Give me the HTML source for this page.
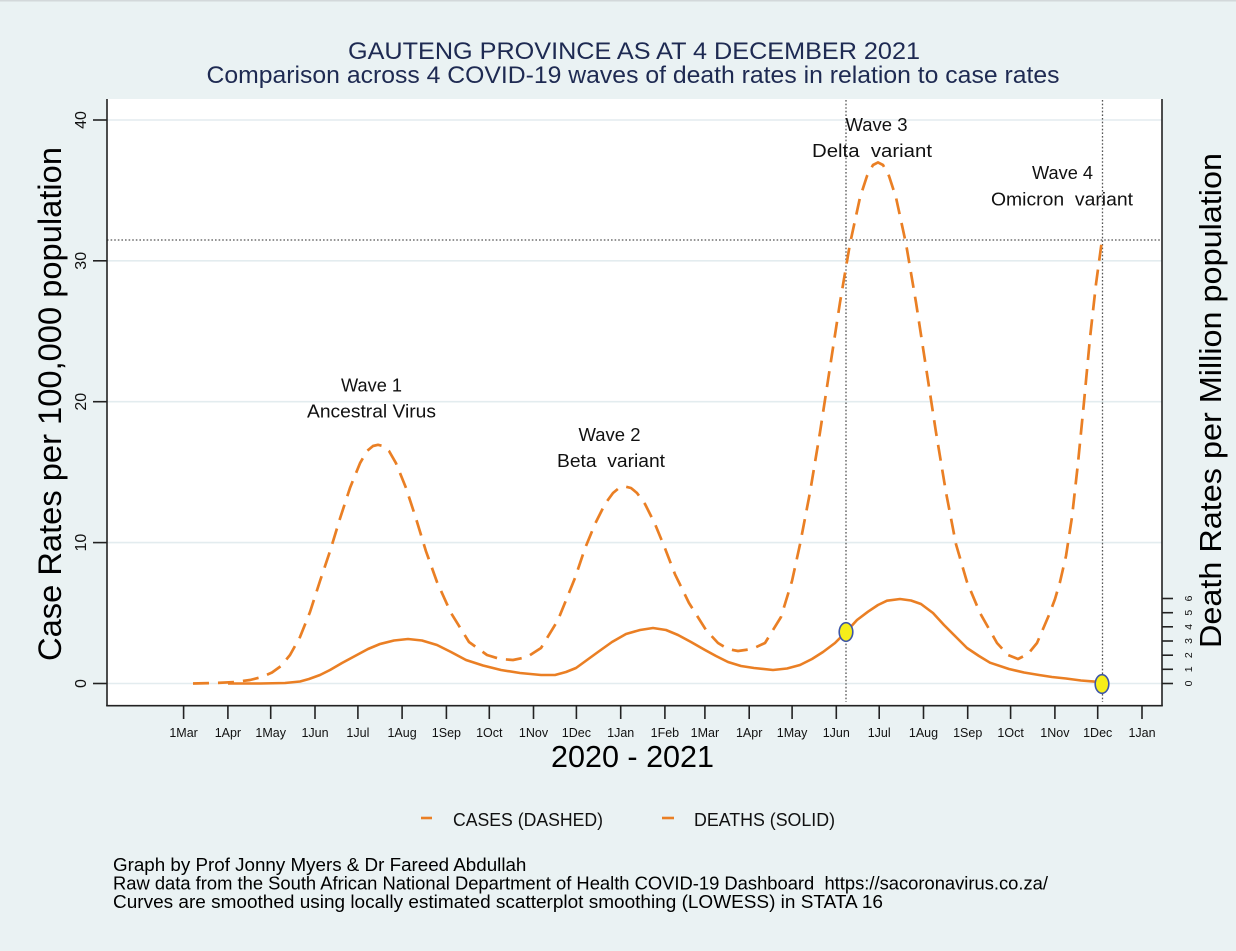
<!DOCTYPE html>
<html><head><meta charset="utf-8"><style>
html,body{margin:0;padding:0;background:#eaf2f3;}
svg{display:block;}
text{font-family:"Liberation Sans",Arial,sans-serif;}
</style></head><body>
<svg width="1236" height="951" viewBox="0 0 1236 951" xmlns="http://www.w3.org/2000/svg">
<rect x="0" y="0" width="1236" height="951" fill="#eaf2f3"/>
<rect x="0" y="0" width="1236" height="1.5" fill="#d3d8da"/>

<!-- Titles -->
<text x="634" y="59" text-anchor="middle" font-size="24" fill="#1e2a52" textLength="572" lengthAdjust="spacingAndGlyphs">GAUTENG PROVINCE AS AT 4 DECEMBER 2021</text>
<text x="633" y="83" text-anchor="middle" font-size="24" fill="#1e2a52" textLength="853" lengthAdjust="spacingAndGlyphs">Comparison across 4 COVID-19 waves of death rates in relation to case rates</text>

<!-- plot area -->
<rect x="107" y="99" width="1055" height="607" fill="#ffffff"/>
<g stroke="#e3ecef" stroke-width="1.6">
<line x1="107" y1="120" x2="1162" y2="120"/>
<line x1="107" y1="260.8" x2="1162" y2="260.8"/>
<line x1="107" y1="401.7" x2="1162" y2="401.7"/>
<line x1="107" y1="542.6" x2="1162" y2="542.6"/>
<line x1="107" y1="683.5" x2="1162" y2="683.5"/>
</g>

<g stroke="#555" stroke-width="1.3" stroke-dasharray="1.6,2" fill="none">
<line x1="107" y1="240" x2="1162" y2="240"/>
<line x1="846" y1="100" x2="846" y2="702"/>
<line x1="1102.5" y1="100" x2="1102.5" y2="702"/>
</g>

<g stroke="#222" stroke-width="1.6" fill="none">
<line x1="107" y1="99" x2="107" y2="706"/>
<line x1="106.2" y1="705.7" x2="1162.8" y2="705.7"/>
<line x1="1162" y1="99" x2="1162" y2="706"/>
<line x1="93" y1="120" x2="107" y2="120"/>
<line x1="93" y1="260.8" x2="107" y2="260.8"/>
<line x1="93" y1="401.7" x2="107" y2="401.7"/>
<line x1="93" y1="542.6" x2="107" y2="542.6"/>
<line x1="93" y1="683.5" x2="107" y2="683.5"/>
<line x1="1162" y1="683.5" x2="1173" y2="683.5"/>
<line x1="1162" y1="669.3" x2="1173" y2="669.3"/>
<line x1="1162" y1="655.2" x2="1173" y2="655.2"/>
<line x1="1162" y1="641" x2="1173" y2="641"/>
<line x1="1162" y1="626.8" x2="1173" y2="626.8"/>
<line x1="1162" y1="612.7" x2="1173" y2="612.7"/>
<line x1="1162" y1="598.5" x2="1173" y2="598.5"/>
<line x1="183.6" y1="705.7" x2="183.6" y2="719"/>
<line x1="227.9" y1="705.7" x2="227.9" y2="719"/>
<line x1="270.7" y1="705.7" x2="270.7" y2="719"/>
<line x1="315" y1="705.7" x2="315" y2="719"/>
<line x1="357.9" y1="705.7" x2="357.9" y2="719"/>
<line x1="402.1" y1="705.7" x2="402.1" y2="719"/>
<line x1="446.4" y1="705.7" x2="446.4" y2="719"/>
<line x1="489.3" y1="705.7" x2="489.3" y2="719"/>
<line x1="533.5" y1="705.7" x2="533.5" y2="719"/>
<line x1="576.4" y1="705.7" x2="576.4" y2="719"/>
<line x1="620.7" y1="705.7" x2="620.7" y2="719"/>
<line x1="664.9" y1="705.7" x2="664.9" y2="719"/>
<line x1="704.9" y1="705.7" x2="704.9" y2="719"/>
<line x1="749.2" y1="705.7" x2="749.2" y2="719"/>
<line x1="792.1" y1="705.7" x2="792.1" y2="719"/>
<line x1="836.3" y1="705.7" x2="836.3" y2="719"/>
<line x1="879.2" y1="705.7" x2="879.2" y2="719"/>
<line x1="923.5" y1="705.7" x2="923.5" y2="719"/>
<line x1="967.7" y1="705.7" x2="967.7" y2="719"/>
<line x1="1010.6" y1="705.7" x2="1010.6" y2="719"/>
<line x1="1054.9" y1="705.7" x2="1054.9" y2="719"/>
<line x1="1097.7" y1="705.7" x2="1097.7" y2="719"/>
<line x1="1142" y1="705.7" x2="1142" y2="719"/>
</g>

<g font-size="16" fill="#111" text-anchor="middle">
<text transform="translate(86,120) rotate(-90)">40</text>
<text transform="translate(86,260.8) rotate(-90)">30</text>
<text transform="translate(86,401.7) rotate(-90)">20</text>
<text transform="translate(86,542.6) rotate(-90)">10</text>
<text transform="translate(86,683.5) rotate(-90)">0</text>
</g>

<g font-size="10.5" fill="#111" text-anchor="middle">
<text transform="translate(1192,683.5) rotate(-90)">0</text>
<text transform="translate(1192,669.3) rotate(-90)">1</text>
<text transform="translate(1192,655.2) rotate(-90)">2</text>
<text transform="translate(1192,641) rotate(-90)">3</text>
<text transform="translate(1192,626.8) rotate(-90)">4</text>
<text transform="translate(1192,612.7) rotate(-90)">5</text>
<text transform="translate(1192,598.5) rotate(-90)">6</text>
</g>

<g font-size="12.5" fill="#111" text-anchor="middle">
<text x="183.6" y="737">1Mar</text>
<text x="227.9" y="737">1Apr</text>
<text x="270.7" y="737">1May</text>
<text x="315" y="737">1Jun</text>
<text x="357.9" y="737">1Jul</text>
<text x="402.1" y="737">1Aug</text>
<text x="446.4" y="737">1Sep</text>
<text x="489.3" y="737">1Oct</text>
<text x="533.5" y="737">1Nov</text>
<text x="576.4" y="737">1Dec</text>
<text x="620.7" y="737">1Jan</text>
<text x="664.9" y="737">1Feb</text>
<text x="704.9" y="737">1Mar</text>
<text x="749.2" y="737">1Apr</text>
<text x="792.1" y="737">1May</text>
<text x="836.3" y="737">1Jun</text>
<text x="879.2" y="737">1Jul</text>
<text x="923.5" y="737">1Aug</text>
<text x="967.7" y="737">1Sep</text>
<text x="1010.6" y="737">1Oct</text>
<text x="1054.9" y="737">1Nov</text>
<text x="1097.7" y="737">1Dec</text>
<text x="1142" y="737">1Jan</text>
</g>

<text transform="translate(61,404) rotate(-90)" text-anchor="middle" font-size="32" fill="#000" textLength="514" lengthAdjust="spacingAndGlyphs">Case Rates per 100,000 population</text>
<text transform="translate(1221,400.5) rotate(-90)" text-anchor="middle" font-size="31" fill="#000" textLength="495" lengthAdjust="spacingAndGlyphs">Death Rates per Million population</text>
<text x="632.5" y="767" text-anchor="middle" font-size="30.5" fill="#000" textLength="163" lengthAdjust="spacingAndGlyphs">2020 - 2021</text>

<g font-size="18" fill="#111" text-anchor="middle">
<text x="371.5" y="391.7" textLength="61" lengthAdjust="spacingAndGlyphs">Wave 1</text>
<text x="371.5" y="417.7" textLength="129" lengthAdjust="spacingAndGlyphs">Ancestral Virus</text>
<text x="609.5" y="441" textLength="62" lengthAdjust="spacingAndGlyphs">Wave 2</text>
<text x="611" y="467" textLength="108" lengthAdjust="spacingAndGlyphs">Beta&#160; variant</text>
<text x="876.5" y="131" textLength="62" lengthAdjust="spacingAndGlyphs">Wave 3</text>
<text x="872" y="157" textLength="120" lengthAdjust="spacingAndGlyphs">Delta&#160; variant</text>
<text x="1062.5" y="179" textLength="61" lengthAdjust="spacingAndGlyphs">Wave 4</text>
<text x="1062" y="205.7" textLength="142" lengthAdjust="spacingAndGlyphs">Omicron&#160; variant</text>
</g>

<path fill="none" stroke="#ea7f24" stroke-width="2.7" stroke-dasharray="16,9" stroke-linejoin="round" stroke-linecap="butt"
d="M193,683.5 L215,683 L235,682 L250,680 L262,677 L272,672.5 L281,666 L290,655 L300,637 L310,612 L320,581 L330,551.3 L340,518.5 L350,487.9 L360,463.2 L367,451 L373,446 L378,444.8 L383,446 L389,451 L396,463.2 L406,487.9 L416,518.5 L426,551.3 L437,582 L451,613 L469,642 L487,655 L500,659 L513,660 L527,657 L541,648 L558,620 L575,578 L585,548.4 L595,524 L605,504 L613,493 L619,488 L625,486.5 L631,488 L637,493 L645,504 L655,524 L665,548.4 L675,574.3 L689,603 L706,630 L718,643 L728,649 L738,651 L752,649 L765,643 L781,617 L792,581 L800,544.3 L810,492.4 L820,432.3 L830,367.3 L840,302.4 L850,243.7 L860,197.5 L867,176 L873,165 L878,162.4 L883,165 L889,176 L896,197.5 L906,243.7 L916,302.4 L926,367.3 L936,432.3 L946,492.4 L956,544.3 L967,582 L980,613 L997,643 L1008,655 L1018,659 L1028,654 L1037,643 L1049,615 L1055,599 L1060,582 L1066,556 L1072,517 L1078,463 L1084,402 L1090,338 L1096,284 L1102,240"/>

<path fill="none" stroke="#ea7f24" stroke-width="2.6" stroke-linejoin="round"
d="M228,683.5 L260,683.5 L285,683 L300,681.5 L309,679 L320,675 L330,670 L342,663 L355,656 L368,649 L380,644 L394,640.5 L408,639 L422,640.5 L437,645 L451,652 L466,660 L483,665.5 L501,670 L520,673 L541,675 L555,675 L566,672 L576,668 L587,660 L598,652 L612,642 L626,634 L640,630 L653,628 L666,630 L678,635 L691,642 L705,650 L716,656 L728,662 L741,666 L754,668 L773,670 L787,668.5 L800,665 L812,659 L823,652 L835,643 L846,632 L857,620 L868,611.7 L878,605 L887,600.7 L900,599 L911,600.5 L921,604 L933,613 L944,625 L956,637 L967,648 L979,656 L990,662.7 L1009,669 L1024,672.5 L1039,675 L1052,677 L1066,678.5 L1081,680.5 L1096,681.7 L1102,682.3"/>

<ellipse cx="846" cy="632" rx="6.8" ry="9.3" fill="#f6ee1a" stroke="#3d55a8" stroke-width="1.6"/>
<ellipse cx="1102" cy="684" rx="6.8" ry="9.3" fill="#f6ee1a" stroke="#3d55a8" stroke-width="1.6"/>

<g stroke="#ea7f24" stroke-width="2.6">
<line x1="421" y1="818" x2="432" y2="818"/>
<line x1="662" y1="818" x2="674" y2="818"/>
</g>
<g font-size="18" fill="#111">
<text x="453" y="826" textLength="150" lengthAdjust="spacingAndGlyphs">CASES (DASHED)</text>
<text x="694" y="826" textLength="141" lengthAdjust="spacingAndGlyphs">DEATHS (SOLID)</text>
</g>

<g font-size="18.8" fill="#000">
<text x="113" y="871">Graph by Prof Jonny Myers &amp; Dr Fareed Abdullah</text>
<text x="113" y="889.5" textLength="935" lengthAdjust="spacingAndGlyphs">Raw data from the South African National Department of Health COVID-19 Dashboard&#160; https://sacoronavirus.co.za/</text>
<text x="113" y="908" textLength="770" lengthAdjust="spacingAndGlyphs">Curves are smoothed using locally estimated scatterplot smoothing (LOWESS) in STATA 16</text>
</g>
</svg>
</body></html>
